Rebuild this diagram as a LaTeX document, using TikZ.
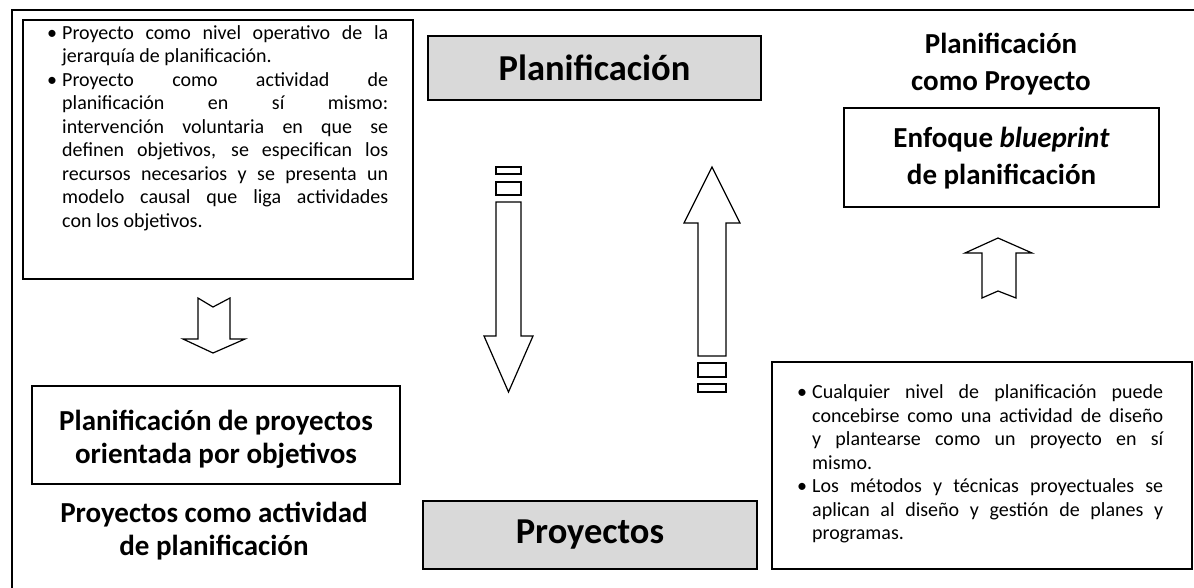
\documentclass[tikz,border=0pt]{standalone}
\usepackage{fontspec}
\setmainfont{Carlito}
\definecolor{boxgray}{HTML}{D9D9D9}
\newcommand\bitem[1]{\par\hangindent=15pt\hangafter=1\noindent\hbox to 15pt{\textbullet\hfil}#1}
\tikzset{
  frame/.style={draw=black, line width=1.2pt},
  graybox/.style={draw=black, line width=1.2pt, fill=boxgray},
  blockarrow/.style={draw=black, line width=1.2pt, fill=white, line join=miter},
  body/.style={font=\fontsize{20}{23.5}\selectfont, inner sep=0pt, align=justify},
  bigtitle/.style={font=\fontsize{36.5}{44}\selectfont\bfseries},
  midtitle/.style={font=\fontsize{29}{37}\selectfont\bfseries, align=center, inner sep=0pt},
  smalltitle/.style={font=\fontsize{29}{33.5}\selectfont\bfseries, align=center, inner sep=0pt},
}
\begin{document}
\begin{tikzpicture}[x=1pt, y=-1pt]
\useasboundingbox (0,0) rectangle (1194,587);
% outer frame (only top and left visible)
\draw[line width=1.8pt] (12,600) -- (12,10) -- (1200,10);

% left text box
\draw[frame] (23,20) rectangle (413,279);
\node[body, text width=341pt, anchor=north west] (lefttext) at (47,15.5) {%
\bitem{Proyecto como nivel operativo de la\linebreak jerarquía de planificación.}
\bitem{Proyecto como actividad de\linebreak planificación en sí mismo:\linebreak intervención voluntaria en que se\linebreak definen objetivos, se especifican los\linebreak recursos necesarios y se presenta un\linebreak modelo causal que liga actividades\linebreak con los objetivos.}\par};

% Planificacion gray box
\draw[graybox] (428,36) rectangle (761,100);
\node[bigtitle] (planif) at (594.5,68) {Planificación};

% right title
\node[midtitle] (plancomo) at (1001,64.5) {Planificación\\como Proyecto};

% Enfoque box
\draw[frame] (844,108) rectangle (1159,207);
\node[midtitle] (enfoque) at (1001.5,158) {Enfoque \textit{blueprint}\\de planificación};

% small up arrow (right)
\draw[blockarrow] (998,238) -- (1032,253) -- (1016,253) -- (1016,298) -- (998,291) -- (982,298) -- (982,253) -- (965,253) -- cycle;

% small down arrow (left)
\draw[blockarrow] (198,298) -- (213,307) -- (230,298) -- (230,339) -- (245,339) -- (213,353) -- (183,339) -- (198,339) -- cycle;

% Planificacion de proyectos box
\draw[frame] (32,386) rectangle (400,484);
\node[smalltitle] (ppo) at (216,439) {Planificación de proyectos\\orientada por objetivos};

\node[smalltitle] (pcomo) at (214,531) {Proyectos como actividad\\de planificación};

% central down arrow
\draw[blockarrow] (496,167) rectangle (521,174);
\draw[blockarrow] (496,182) rectangle (521,195);
\draw[blockarrow] (496,202) -- (521,202) -- (521,336) -- (533,336) -- (508.5,392) -- (484,336) -- (496,336) -- cycle;

% central up arrow
\draw[blockarrow] (712,167) -- (740,223) -- (726,223) -- (726,356) -- (698,356) -- (698,223) -- (684,223) -- cycle;
\draw[blockarrow] (698,363) rectangle (726,377);
\draw[blockarrow] (698,384) rectangle (726,392);

% Proyectos gray box
\draw[graybox] (423,501) rectangle (757,569);
\node[bigtitle] (proy) at (590,535) {Proyectos};

% right text box
\draw[frame] (772,362) rectangle (1192,569);
\node[body, text width=366pt, anchor=north west] (righttext) at (797,375) {%
\bitem{Cualquier nivel de planificación puede\linebreak concebirse como una actividad de diseño\linebreak y plantearse como un proyecto en sí\linebreak mismo.}
\bitem{Los métodos y técnicas proyectuales se\linebreak aplican al diseño y gestión de planes y\linebreak programas.}\par};
\end{tikzpicture}
\end{document}
